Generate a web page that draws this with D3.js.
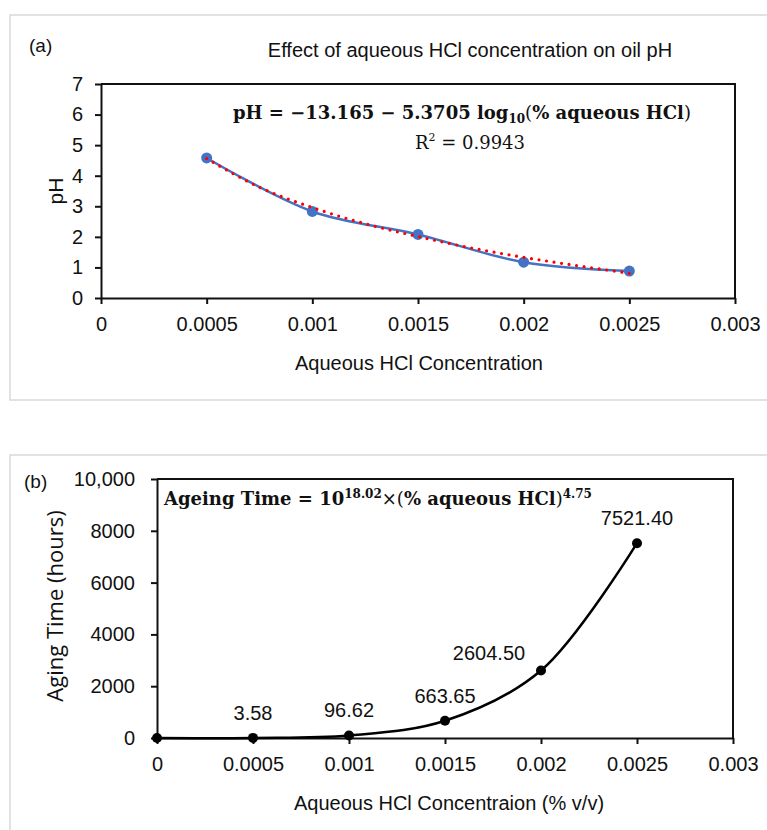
<!DOCTYPE html>
<html>
<head>
<meta charset="utf-8">
<script src="https://cdn.jsdelivr.net/npm/d3@7"></script>
<style>
  body { margin: 0; background: #fff; }
  .lbl { font-family: "Liberation Sans", sans-serif; fill: #111; }
  .eq { font-family: "DejaVu Serif", "Liberation Serif", serif; fill: #111; }
</style>
</head>
<body>
<div id="chart"></div>
<script>
// Panel (a) data
const phConc = [0.0005, 0.001, 0.0015, 0.002, 0.0025];
const phValues = [4.58, 2.83, 2.08, 1.17, 0.88];
// log trendline
const trendConc = [0.0005, 0.00075, 0.001, 0.00125, 0.0015, 0.00175, 0.002, 0.00225, 0.0025];
const trendValues = [4.56, 3.62, 2.96, 2.43, 2.01, 1.64, 1.33, 1.06, 0.81];
const phTicks = [0, 1, 2, 3, 4, 5, 6, 7];

// Panel (b) data
const ageConc = [0, 0.0005, 0.001, 0.0015, 0.002, 0.0025];
const ageHours = [0, 3.58, 96.62, 663.65, 2604.50, 7521.40];
const ageLabels = ["", "3.58", "96.62", "663.65", "2604.50", "7521.40"];
const ageTicks = [0, 2000, 4000, 6000, 8000, 10000];
const ageTickLabels = ["0", "2000", "4000", "6000", "8000", "10,000"];

// shared x ticks
const concTicks = [0, 0.0005, 0.001, 0.0015, 0.002, 0.0025, 0.003];
const concTickLabels = ["0", "0.0005", "0.001", "0.0015", "0.002", "0.0025", "0.003"];

const svg = d3.select("#chart").append("svg")
    .attr("width", 767)
    .attr("height", 830);

// panel frames
svg.append("rect").attr("x", 10).attr("y", 15).attr("width", 780).attr("height", 385)
  .attr("fill", "none").attr("stroke", "#d9d9d9").attr("stroke-width", 1.5);
svg.append("rect").attr("x", 10).attr("y", 455).attr("width", 780).attr("height", 400)
  .attr("fill", "none").attr("stroke", "#d9d9d9").attr("stroke-width", 1.5);

function drawAxes(g, x, y, yTicks, yLabels, w, h, yPad) {
  g.append("g")
    .attr("transform", `translate(0,${h})`)
    .call(d3.axisBottom(x).tickValues(concTicks).tickSize(6).tickSizeOuter(0)
      .tickFormat((d, i) => concTickLabels[i]))
    .call(a => {
      a.select(".domain").attr("stroke", "#111").attr("stroke-width", 2);
      a.selectAll(".tick line").attr("stroke", "#111").attr("stroke-width", 2);
      a.selectAll("text").attr("class", "lbl").attr("font-size", 20).attr("dy", "1.2em");
    });
  g.append("g")
    .call(d3.axisLeft(y).tickValues(yTicks).tickSize(6).tickSizeOuter(0)
      .tickFormat((d, i) => yLabels[i]))
    .call(a => {
      a.select(".domain").attr("stroke", "#111").attr("stroke-width", 2);
      a.selectAll(".tick line").attr("stroke", "#111").attr("stroke-width", 2);
      a.selectAll("text").attr("class", "lbl").attr("font-size", 20).attr("x", -yPad);
    });
  // top and right borders of plot area
  g.append("path").attr("d", `M0,0H${w}V${h}`).attr("fill", "none")
    .attr("stroke", "#111").attr("stroke-width", 2);
}

// ---------- Panel (a) ----------
const aLeft = 101, aTop = 84, aW = 634, aH = 214;
const ga = svg.append("g").attr("transform", `translate(${aLeft},${aTop})`);
const xa = d3.scaleLinear().domain([0, 0.003]).range([0, aW]);
const ya = d3.scaleLinear().domain([0, 7]).range([aH, 0]);

drawAxes(ga, xa, ya, phTicks, phTicks.map(String), aW, aH, 18);

ga.append("path")
  .datum(phConc.map((c, i) => [c, phValues[i]]))
  .attr("d", d3.line().x(d => xa(d[0])).y(d => ya(d[1])).curve(d3.curveCatmullRom))
  .attr("fill", "none").attr("stroke", "#4472c4").attr("stroke-width", 2.5);

ga.selectAll("circle.pt")
  .data(phConc.map((c, i) => [c, phValues[i]]))
  .enter().append("circle")
    .attr("cx", d => xa(d[0])).attr("cy", d => ya(d[1])).attr("r", 5.5)
    .attr("fill", "#4472c4");

ga.append("path")
  .datum(trendConc.map((c, i) => [c, trendValues[i]]))
  .attr("d", d3.line().x(d => xa(d[0])).y(d => ya(d[1])).curve(d3.curveCatmullRom))
  .attr("fill", "none").attr("stroke", "#ff0000").attr("stroke-width", 3.2)
  .attr("stroke-linecap", "round").attr("stroke-dasharray", "0 7.6");

svg.append("text").attr("class", "lbl").attr("x", 29).attr("y", 52)
  .attr("font-size", 19).text("(a)");
svg.append("text").attr("class", "lbl").attr("x", 470).attr("y", 57)
  .attr("text-anchor", "middle").attr("font-size", 20)
  .text("Effect of aqueous HCl concentration on oil pH");

const eqA = svg.append("text").attr("class", "eq").attr("x", 233).attr("y", 119)
  .attr("font-size", 18).attr("font-weight", "bold");
eqA.append("tspan").text("pH = \u221213.165 \u2212 5.3705 log");
eqA.append("tspan").attr("font-size", 12).attr("dy", 4).text("10");
eqA.append("tspan").attr("dy", -4).attr("font-weight", "normal").text("(");
eqA.append("tspan").text("% aqueous HCl");
eqA.append("tspan").attr("font-weight", "normal").text(")");

const r2 = svg.append("text").attr("class", "eq").attr("x", 470).attr("y", 149)
  .attr("text-anchor", "middle").attr("font-size", 18);
r2.append("tspan").text("R");
r2.append("tspan").attr("font-size", 11).attr("dy", -8).text("2");
r2.append("tspan").attr("dy", 8).text(" = 0.9943");

svg.append("text").attr("class", "lbl").attr("x", 419).attr("y", 370)
  .attr("text-anchor", "middle").attr("font-size", 20).text("Aqueous HCl Concentration");
svg.append("text").attr("class", "lbl")
  .attr("transform", "translate(63,191) rotate(-90)")
  .attr("text-anchor", "middle").attr("font-size", 21).text("pH");

// ---------- Panel (b) ----------
const bLeft = 157, bTop = 479, bW = 576, bH = 259;
const gb = svg.append("g").attr("transform", `translate(${bLeft},${bTop})`);
const xb = d3.scaleLinear().domain([0, 0.003]).range([0, bW]);
const yb = d3.scaleLinear().domain([0, 10000]).range([bH, 0]);

drawAxes(gb, xb, yb, ageTicks, ageTickLabels, bW, bH, 22);

const agePts = ageConc.map((c, i) => [c, ageHours[i], ageLabels[i]]);

gb.append("path")
  .datum(agePts)
  .attr("d", d3.line().x(d => xb(d[0])).y(d => yb(d[1])).curve(d3.curveCatmullRom))
  .attr("fill", "none").attr("stroke", "#000").attr("stroke-width", 2.5);

gb.selectAll("circle.pt")
  .data(agePts)
  .enter().append("circle")
    .attr("cx", d => xb(d[0])).attr("cy", d => yb(d[1])).attr("r", 5)
    .attr("fill", "#000");

// data labels; 2604.50 sits to the upper left of its point
gb.selectAll("text.dl")
  .data(agePts)
  .enter().append("text")
    .attr("class", "lbl")
    .attr("font-size", 20)
    .attr("text-anchor", "middle")
    .attr("x", (d, i) => xb(d[0]) - (i === 4 ? 52 : 0))
    .attr("y", (d, i) => yb(d[1]) - (i === 4 ? 11 : 18))
    .text(d => d[2]);

svg.append("text").attr("class", "lbl").attr("x", 24).attr("y", 488)
  .attr("font-size", 19).text("(b)");

const eqB = svg.append("text").attr("class", "eq").attr("x", 164).attr("y", 505)
  .attr("font-size", 18).attr("font-weight", "bold");
eqB.append("tspan").text("Ageing Time = 10");
eqB.append("tspan").attr("font-size", 12).attr("dy", -7).text("18.02");
eqB.append("tspan").attr("dy", 7).attr("font-weight", "normal").text("\u00d7(");
eqB.append("tspan").text("% aqueous HCl");
eqB.append("tspan").attr("font-weight", "normal").text(")");
eqB.append("tspan").attr("font-size", 12).attr("dy", -7).text("4.75");

svg.append("text").attr("class", "lbl").attr("x", 449).attr("y", 810)
  .attr("text-anchor", "middle").attr("font-size", 20).text("Aqueous HCl Concentraion (% v/v)");
svg.append("text")
  .attr("font-family", "'Open Sans', sans-serif").attr("fill", "#111")
  .attr("transform", "translate(63,606) rotate(-90)")
  .attr("text-anchor", "middle").attr("font-size", 22).text("Aging Time (hours)");
</script>
</body>
</html>
